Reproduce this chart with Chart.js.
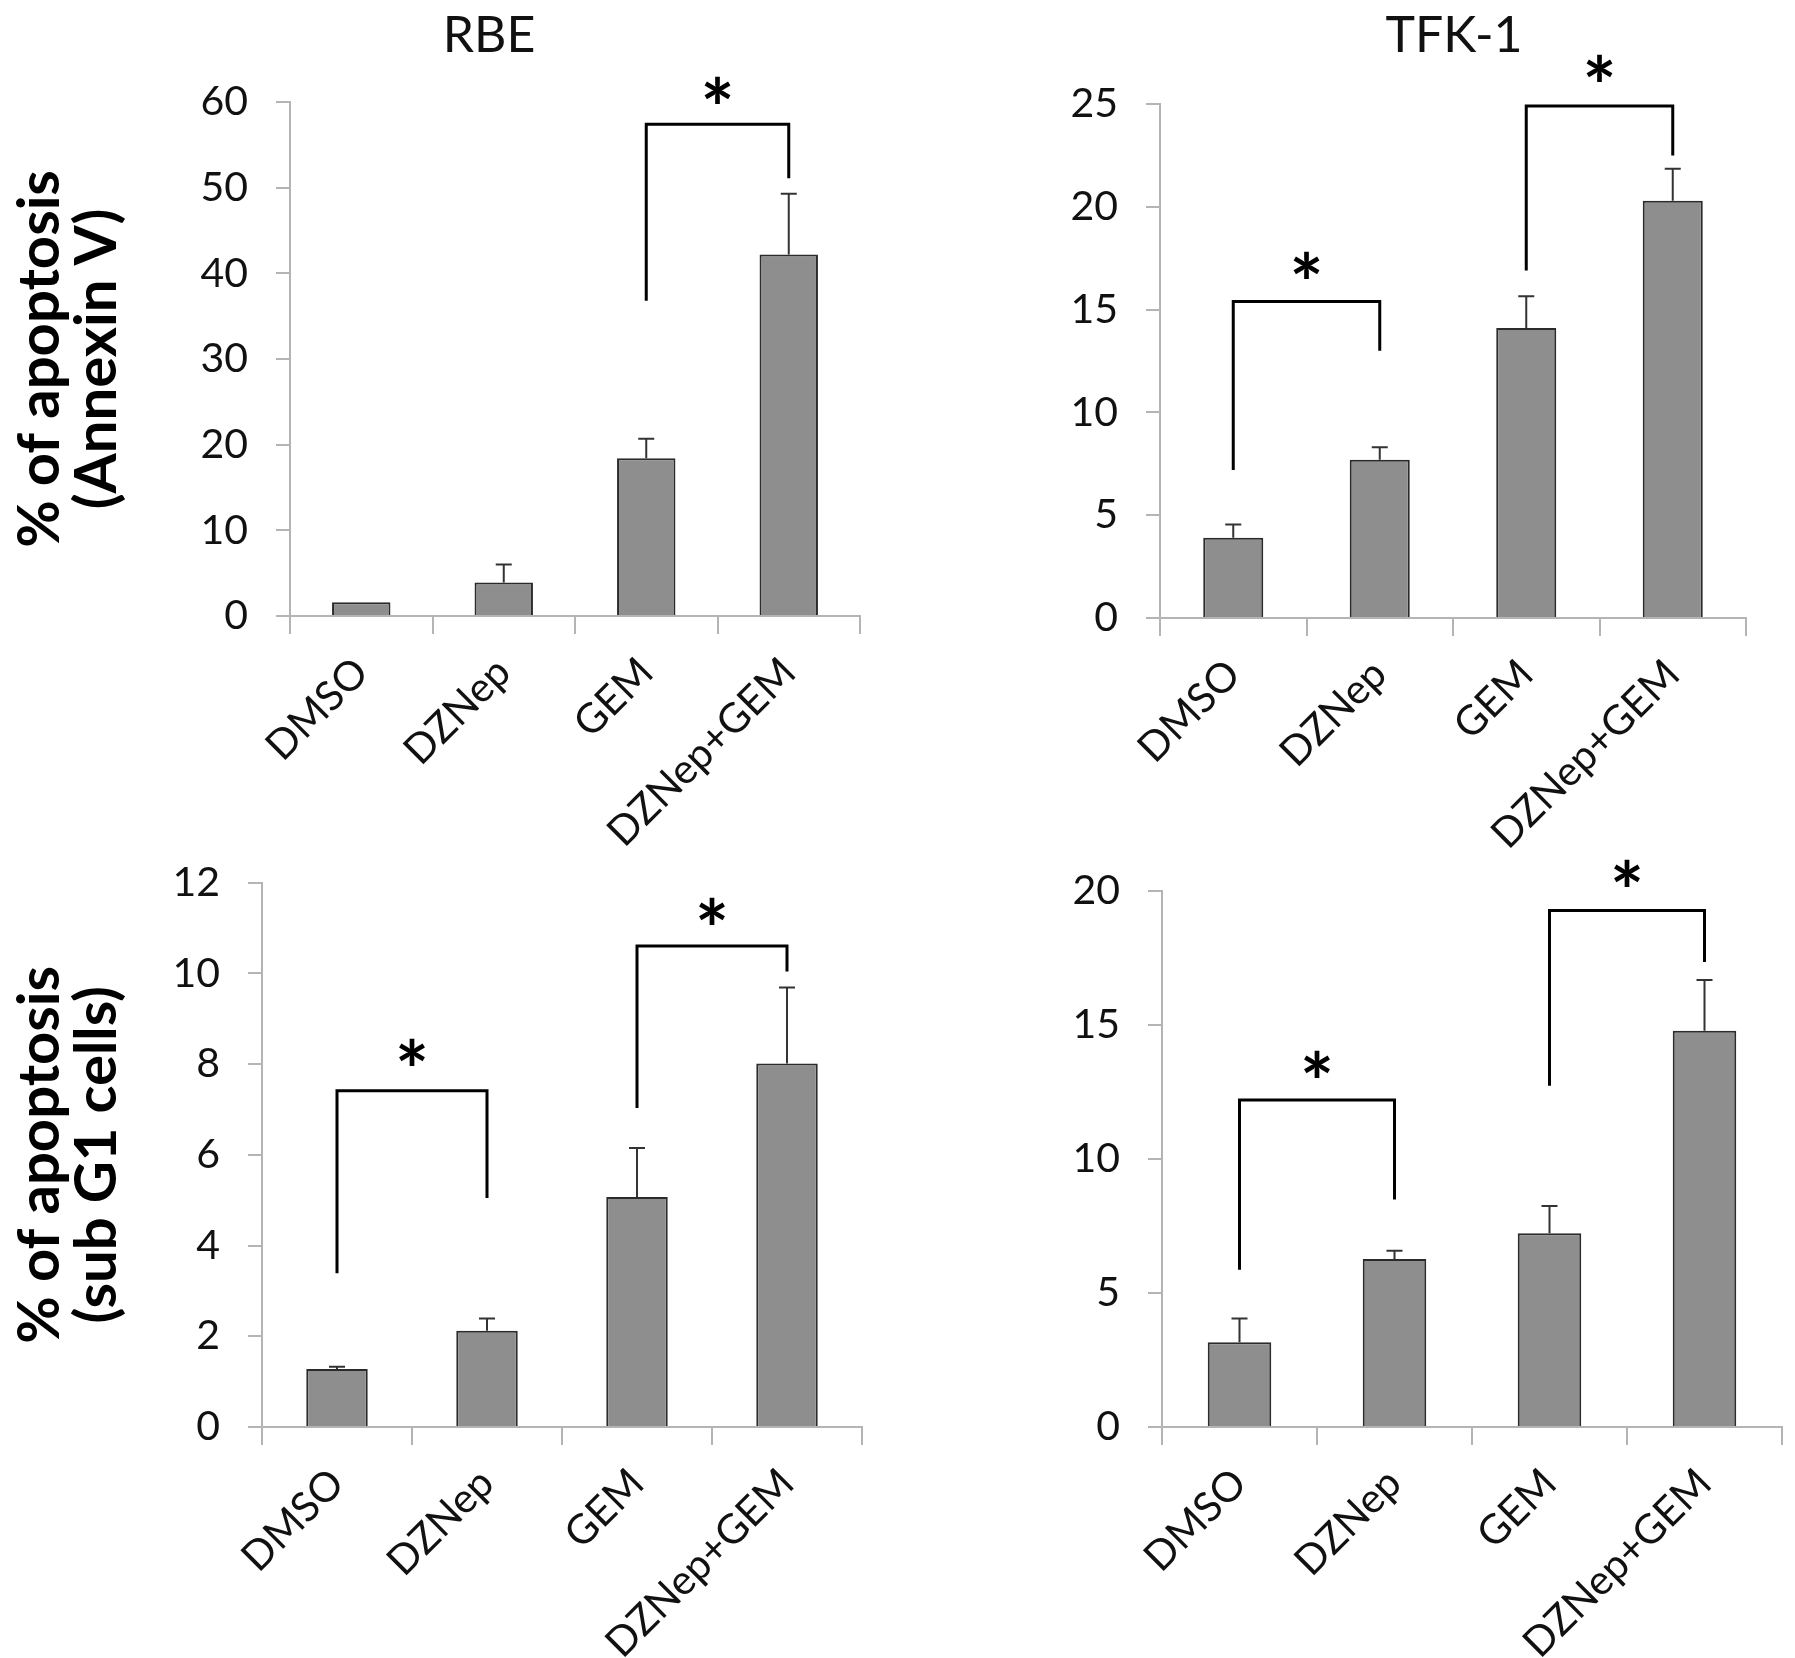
<!DOCTYPE html>
<html>
<head>
<meta charset="utf-8">
<title>Apoptosis - RBE / TFK-1</title>
<script src="https://cdn.jsdelivr.net/npm/chart.js@4.4.1/dist/chart.umd.min.js"></script>
<style>
  html, body { margin: 0; padding: 0; background: #fff; }
  #page { position: relative; width: 1795px; height: 1658px; overflow: hidden; }
  .panel { position: absolute; }
</style>
</head>
<body>
<div id="page">
  <div class="panel" style="left:0;top:0;width:900px;height:880px"><canvas id="rbe-annexin"></canvas></div>
  <div class="panel" style="left:900px;top:0;width:895px;height:880px"><canvas id="tfk-annexin"></canvas></div>
  <div class="panel" style="left:0;top:830px;width:900px;height:828px"><canvas id="rbe-subg1"></canvas></div>
  <div class="panel" style="left:900px;top:830px;width:895px;height:828px"><canvas id="tfk-subg1"></canvas></div>
</div>
<script>
// ===== DATA =====
var categories = ['DMSO', 'DZNep', 'GEM', 'DZNep+GEM'];

// % of apoptosis (Annexin V), mean and upper SD.
var rbeAnnexin = [1.6, 3.9, 18.4, 42.2];
var rbeAnnexinErr = [0, 2.1, 2.3, 7.1];
var tfkAnnexin = [3.9, 7.7, 14.1, 20.3];
var tfkAnnexinErr = [0.65, 0.6, 1.55, 1.55];

// % of apoptosis (sub G1 cells).
var rbeSubG1 = [1.28, 2.12, 5.07, 8.01];
var rbeSubG1Err = [0.05, 0.27, 1.08, 1.68];
var tfkSubG1 = [3.16, 6.27, 7.23, 14.79];
var tfkSubG1Err = [0.89, 0.31, 1.02, 1.89];

// Significance brackets: [from, to, bar level, left leg end, right leg end, star level].
var rbeAnnexinSig = [[2, 3, 57.4, 36.8, 51.1, 61]];
var tfkAnnexinSig = [[0, 1, 15.4, 7.2, 13.0, 17.0], [2, 3, 24.9, 16.9, 22.5, 26.6]];
var rbeSubG1Sig = [[0, 1, 7.41, 3.39, 5.05, 8.2], [2, 3, 10.6, 7.03, 10.04, 11.3]];
var tfkSubG1Sig = [[0, 1, 12.2, 5.87, 8.49, 13.44], [2, 3, 19.27, 12.73, 17.35, 20.57]];

// Y axis ranges.
var yMaxRbeAnnexin = 60, yStepRbeAnnexin = 10;
var yMaxTfkAnnexin = 25, yStepTfkAnnexin = 5;
var yMaxRbeSubG1 = 12, yStepRbeSubG1 = 2;
var yMaxTfkSubG1 = 20, yStepTfkSubG1 = 5;

var FONT = 'Lato, Carlito, "Open Sans", sans-serif';
var AXIS_GREY = '#b4b4b4';

// ===== ERROR BARS, BRACKETS, PANEL TITLE =====
var extrasPlugin = {
    id: 'extras',
    afterDatasetsDraw: function (chart, args, opts) {
        var ctx = chart.ctx;
        var xs = chart.scales.x;
        var ys = chart.scales.y;
        var meta = chart.getDatasetMeta(0);
        ctx.save();

        // Upper error bars with a cap.
        ctx.strokeStyle = '#333';
        ctx.lineWidth = 2;
        opts.errors.forEach(function (err, i) {
            if (!err) {
                return;
            }
            var bar = meta.data[i];
            var top = ys.getPixelForValue(opts.values[i] + err);
            ctx.beginPath();
            ctx.moveTo(bar.x, bar.y);
            ctx.lineTo(bar.x, top);
            ctx.moveTo(bar.x - 8, top);
            ctx.lineTo(bar.x + 8, top);
            ctx.stroke();
        });

        // Brackets and stars.
        ctx.strokeStyle = '#000';
        ctx.lineWidth = 3;
        ctx.fillStyle = '#000';
        ctx.font = 'bold 80px ' + FONT;
        ctx.textAlign = 'center';
        ctx.textBaseline = 'middle';
        opts.brackets.forEach(function (b) {
            var x1 = xs.getPixelForValue(b[0]);
            var x2 = xs.getPixelForValue(b[1]);
            var yb = ys.getPixelForValue(b[2]);
            ctx.beginPath();
            ctx.moveTo(x1, ys.getPixelForValue(b[3]));
            ctx.lineTo(x1, yb);
            ctx.lineTo(x2, yb);
            ctx.lineTo(x2, ys.getPixelForValue(b[4]));
            ctx.stroke();
            ctx.fillText('*', (x1 + x2) / 2, ys.getPixelForValue(b[5]) + 19);
        });

        // Panel title (cell line).
        if (opts.title) {
            ctx.font = '50px ' + FONT;
            ctx.fillStyle = '#111';
            ctx.fillText(opts.title, opts.titleX, opts.titleY);
        }
        ctx.restore();
    }
};

var makePanel = function (canvasId, values, errors, brackets, cfg) {
    var tickFont = {family: FONT, size: 41};
    new Chart(document.getElementById(canvasId), {
        type: 'bar',
        data: {
            labels: categories,
            datasets: [{
                data: values,
                backgroundColor: '#8e8e8e',
                borderColor: '#2b2b2b',
                borderWidth: 2,
                barPercentage: 0.41,
                categoryPercentage: 1.0
            }]
        },
        options: {
            responsive: true,
            maintainAspectRatio: false,
            animation: false,
            layout: {
                padding: {top: cfg.top, right: cfg.right, bottom: 0, left: 0}
            },
            plugins: {
                legend: {display: false},
                tooltip: {enabled: false},
                extras: {
                    values: values,
                    errors: errors,
                    brackets: brackets,
                    title: cfg.title,
                    titleX: cfg.titleX,
                    titleY: 36
                }
            },
            scales: {
                x: {
                    grid: {offset: true, drawOnChartArea: false, tickLength: 18, color: AXIS_GREY, lineWidth: 2},
                    border: {color: AXIS_GREY, width: 2},
                    ticks: {color: '#111', font: tickFont, minRotation: 45, maxRotation: 45, autoSkip: false, padding: 14},
                    afterFit: function (s) {
                        s.height = cfg.xHeight;
                    }
                },
                y: {
                    min: 0,
                    max: cfg.yMax,
                    grid: {drawOnChartArea: false, tickLength: 14, color: AXIS_GREY, lineWidth: 2},
                    border: {color: AXIS_GREY, width: 2},
                    ticks: {stepSize: cfg.yStep, color: '#111', font: tickFont, padding: 28},
                    title: {
                        display: !!cfg.yTitle,
                        text: cfg.yTitle,
                        color: '#000',
                        font: {family: FONT, size: 58, weight: 'bold', lineHeight: 0.98},
                        padding: {top: 12, bottom: 0}
                    },
                    afterFit: function (s) {
                        s.width = cfg.yWidth;
                    }
                }
            }
        },
        plugins: [extrasPlugin]
    });
};

// ===== PANELS =====
makePanel('rbe-annexin', rbeAnnexin, rbeAnnexinErr, rbeAnnexinSig, {
    title: 'RBE', titleX: 489, top: 102, right: 40, xHeight: 264, yWidth: 290,
    yMax: yMaxRbeAnnexin, yStep: yStepRbeAnnexin, yTitle: ['% of apoptosis', '(Annexin V)']
});
makePanel('tfk-annexin', tfkAnnexin, tfkAnnexinErr, tfkAnnexinSig, {
    title: 'TFK-1', titleX: 554, top: 104, right: 49, xHeight: 262, yWidth: 260,
    yMax: yMaxTfkAnnexin, yStep: yStepTfkAnnexin, yTitle: null
});
makePanel('rbe-subg1', rbeSubG1, rbeSubG1Err, rbeSubG1Sig, {
    title: null, top: 42, right: 38, xHeight: 231, yWidth: 262,
    yMax: yMaxRbeSubG1, yStep: yStepRbeSubG1, yTitle: ['% of apoptosis', '(sub G1 cells)']
});
makePanel('tfk-subg1', tfkSubG1, tfkSubG1Err, tfkSubG1Sig, {
    title: null, top: 61, right: 13, xHeight: 231, yWidth: 262,
    yMax: yMaxTfkSubG1, yStep: yStepTfkSubG1, yTitle: null
});
</script>
</body>
</html>
